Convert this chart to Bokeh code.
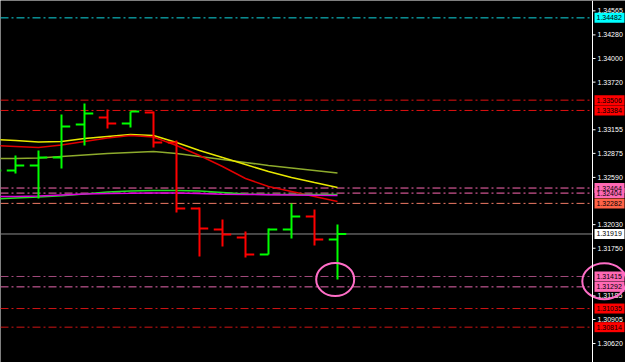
import numpy as np
from bokeh.plotting import figure
from bokeh.models import ColumnDataSource, Range1d, Span
from bokeh.core.properties import value
from bokeh.embed import file_html
from bokeh.resources import INLINE

# ---------------- data ----------------
bar_num = list(range(16))
opens  = [1.32610, 1.32672, 1.32731, 1.32826, 1.33217, 1.33300, 1.33229, 1.33360,
          1.33004, 1.32221, 1.31972, 1.31877, 1.31676, 1.31972, 1.32126, 1.31853]
highs  = [1.32720, 1.32850, 1.32909, 1.33336, 1.33466, 1.33395, 1.33371, 1.33371,
          1.33028, 1.32233, 1.32091, 1.31948, 1.31984, 1.32280, 1.32209, 1.32031]
lows   = [1.32560, 1.32636, 1.32340, 1.32695, 1.32968, 1.33170, 1.33182, 1.32945,
          1.32174, 1.31652, 1.31770, 1.31640, 1.31676, 1.31865, 1.31782, 1.31379]
closes = [1.32672, 1.32731, 1.32826, 1.33194, 1.33348, 1.33229, 1.33371, 1.33004,
          1.32221, 1.31984, 1.31913, 1.31676, 1.31972, 1.32126, 1.31853, 1.31919]

ma_yellow = [1.33039, 1.33028, 1.33010, 1.33016, 1.33051, 1.33075, 1.33099, 1.33087,
             1.33004, 1.32909, 1.32826, 1.32743, 1.32660, 1.32589, 1.32529, 1.32470]
ma_red    = [1.32968, 1.32956, 1.32944, 1.32974, 1.33016, 1.33057, 1.33087, 1.33069,
             1.32968, 1.32850, 1.32719, 1.32577, 1.32482, 1.32423, 1.32363, 1.32304]
ma_olive  = [1.32814, 1.32814, 1.32820, 1.32838, 1.32856, 1.32873, 1.32885, 1.32897,
             1.32873, 1.32838, 1.32802, 1.32767, 1.32731, 1.32701, 1.32672, 1.32642]
ma_magenta = [1.32363, 1.32363, 1.32369, 1.32381, 1.32393, 1.32399, 1.32401, 1.32405,
              1.32405, 1.32399, 1.32389, 1.32387, 1.32385, 1.32381, 1.32378, 1.32375]
ma_green  = [1.32334, 1.32346, 1.32357, 1.32372, 1.32393, 1.32417, 1.32429, 1.32434,
             1.32434, 1.32429, 1.32411, 1.32393, 1.32387, 1.32387, 1.32387, 1.32387]

axis_ticks = [1.34565, 1.34280, 1.34000, 1.33720, 1.33155, 1.32875, 1.32590,
              1.32030, 1.31750, 1.31185, 1.30905, 1.30620]
tick_labels = ["1.34565", "1.34280", "1.34000", "1.33720", "1.33155", "1.32875", "1.32590",
               "1.32030", "1.31750", "1.31185", "1.30905", "1.30620"]

level_prices = [1.34482, 1.33506, 1.33384, 1.32464, 1.32404, 1.32282,
                1.31919, 1.31415, 1.31292, 1.31035, 1.30814]
level_labels = ["1.34482", "1.33506", "1.33384", "1.32464", "1.32404", "1.32282",
                "1.31919", "1.31415", "1.31292", "1.31035", "1.30814"]
level_line_colors = ["#10D8E0", "#E01010", "#E01010", "#FF69B4", "#FF69B4", "#F07A66",
                     "#8C8C8C", "#A04A7C", "#E868B0", "#D01414", "#D01414"]
level_box_colors = ["#00FFFF", "#FF0000", "#FF0000", "#FF69B4", "#FF69B4", "#FF6347",
                    "#FFFFFF", "#FF69B4", "#FF69B4", "#FF0000", "#FF0000"]
level_is_bid = [False] * 6 + [True] + [False] * 4

# highlighted spots (hand drawn circles): centre bar, centre price
mark_bar = [14.9, 26.6]
mark_price = [1.31379, 1.31360]

# ---------------- layout constants ----------------
W, H = 625, 362
PX_PER_BAR = 23.0
X_START = 0.348                      # bar units at the left edge
X_END = X_START + W / PX_PER_BAR     # frame spans whole width (price scale drawn inside)
SCALE_X = X_START + 592 / PX_PER_BAR  # position of the price scale line
UP, DOWN = "#00FF00", "#FF0000"
TICK = 0.38
FONT = value("Liberation Sans")

p = figure(width=W, height=H, output_backend="svg", toolbar_location=None,
           x_axis_location=None, y_axis_location=None,
           x_range=Range1d(X_START, X_END), y_range=Range1d(1.30395, 1.34688),
           min_border=0, background_fill_color="black", border_fill_color="black")
p.outline_line_color = None
p.grid.visible = False

# level lines (stop at the price scale)
dd = [i for i, b in enumerate(level_is_bid) if not b]
bid = [i for i, b in enumerate(level_is_bid) if b]
p.segment(x0=[X_START] * len(dd), x1=[SCALE_X - 0.05] * len(dd),
          y0=[level_prices[i] for i in dd], y1=[level_prices[i] for i in dd],
          line_color=[level_line_colors[i] for i in dd], line_width=1, line_dash="8 3 2 3")
p.segment(x0=[X_START] * len(bid), x1=[SCALE_X] * len(bid),
          y0=[level_prices[i] for i in bid], y1=[level_prices[i] for i in bid],
          line_color=[level_line_colors[i] for i in bid], line_width=1)

# moving averages
p.line(bar_num, ma_olive, line_color="#8DAA2C", line_width=1.5)
p.line(bar_num, ma_yellow, line_color="#E8E800", line_width=1.5)
p.line(bar_num, ma_red, line_color="#E00000", line_width=1.5)
p.line(bar_num, ma_green, line_color="#20E020", line_width=1.5)
p.line(bar_num, ma_magenta, line_color="#E000E0", line_width=1.5)

# OHLC bars
x = np.array(bar_num, dtype=float)
o = np.array(opens); c = np.array(closes)
src = ColumnDataSource(dict(x=x, xl=x - TICK, xr=x + TICK, o=o, h=highs, l=lows, c=c,
                            color=np.where(c >= o, UP, DOWN)))
p.segment(x0="x", y0="l", x1="x", y1="h", line_color="color", line_width=2, source=src)
p.segment(x0="xl", y0="o", x1="x", y1="o", line_color="color", line_width=2, source=src)
p.segment(x0="x", y0="c", x1="xr", y1="c", line_color="color", line_width=2, source=src)

# price scale: line, tick marks, tick labels
p.add_layout(Span(location=SCALE_X, dimension="height", line_color="white", line_width=1))
nt = len(axis_ticks)
p.segment(x0=[SCALE_X] * nt, x1=[SCALE_X + 3 / PX_PER_BAR] * nt, y0=axis_ticks, y1=axis_ticks,
          line_color="white", line_width=1)
p.text(x=[SCALE_X + 5 / PX_PER_BAR] * nt, y=axis_ticks, text=tick_labels,
       text_font=FONT, text_font_size="7px", text_color="white",
       text_align="left", text_baseline="middle")

# coloured price boxes
nl = len(level_prices)
p.rect(x=[SCALE_X + 17 / PX_PER_BAR] * nl, y=level_prices, width=30, height=10,
       width_units="screen", height_units="screen",
       fill_color=level_box_colors, line_color=None)
p.text(x=[SCALE_X + 4 / PX_PER_BAR] * nl, y=level_prices, text=level_labels,
       text_font=FONT, text_font_size="7px", text_color="black",
       text_align="left", text_baseline="middle")

# hand drawn circles
p.ellipse(x=mark_bar, y=mark_price, width=[38, 44], height=[33, 36],
          width_units="screen", height_units="screen",
          fill_color=None, line_color="#FF6EC7", line_width=2)

open("out.html", "w").write(file_html(p, INLINE))
